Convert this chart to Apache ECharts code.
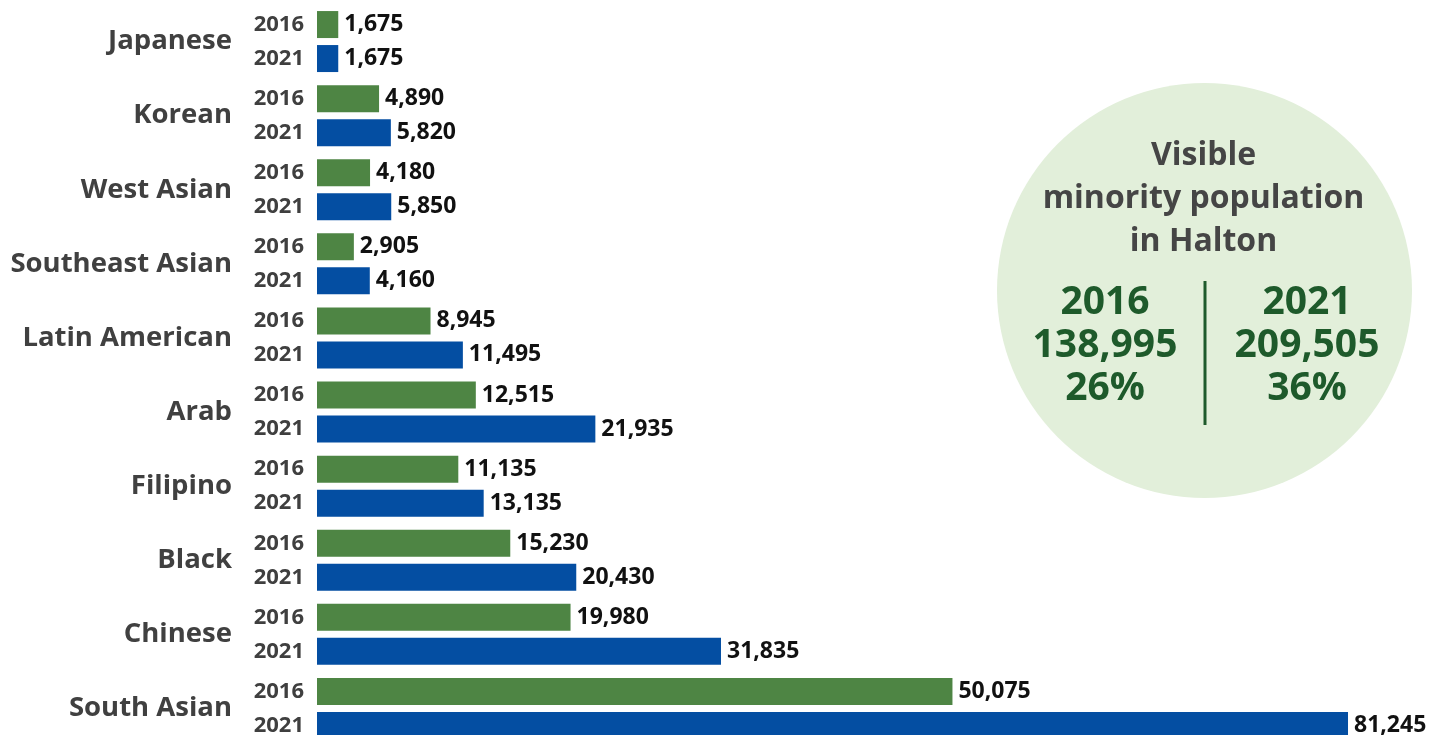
<!DOCTYPE html>
<html>
<head>
<meta charset="utf-8">
<script src="https://cdn.jsdelivr.net/npm/echarts@6/dist/echarts.min.js"></script>
<style>
  html, body { margin: 0; padding: 0; background: #ffffff; }
  #chart { width: 1435px; height: 735px; }
</style>
</head>
<body>
<div id="chart"></div>
<script>
// ---- Data ----
const categories = ['Japanese', 'Korean', 'West Asian', 'Southeast Asian', 'Latin American',
                    'Arab', 'Filipino', 'Black', 'Chinese', 'South Asian'];
const years = ['2016', '2021'];
const values2016 = [1675, 4890, 4180, 2905, 8945, 12515, 11135, 15230, 19980, 50075];
const values2021 = [1675, 5820, 5850, 4160, 11495, 21935, 13135, 20430, 31835, 81245];

const summaryTitle = ['Visible', 'minority population', 'in Halton'];
const summaryYears = ['2016', '2021'];
const summaryTotals = ['138,995', '209,505'];
const summaryShares = ['26%', '36%'];

// ---- Styling ----
const FONT = "'Open Sans', 'Noto Sans', sans-serif";
const GREEN = '#4E8544';
const BLUE = '#044EA2';
const BAR_W = 27;
const BAR_GAP = 7;

const fmt = v => v.toLocaleString('en-US');

const chart = echarts.init(document.getElementById('chart'), null, { renderer: 'canvas' });

const yearLabelData = [];
categories.forEach((c, i) => { years.forEach((y, j) => yearLabelData.push([0, i, j])); });

const option = {
  animation: false,
  backgroundColor: '#ffffff',
  textStyle: { fontFamily: FONT },
  grid: { left: 317, top: 4.5, height: 741, right: 0, containLabel: false, outerBoundsMode: 'none' },
  xAxis: {
    type: 'value', min: 0, max: 88100, show: false
  },
  yAxis: {
    type: 'category', data: categories, inverse: true,
    axisLine: { show: false }, axisTick: { show: false }, splitLine: { show: false },
    axisLabel: {
      margin: 85, fontSize: 27.5, fontWeight: 'bold', color: '#404040', fontFamily: FONT
    }
  },
  series: [
    {
      name: years[0], type: 'bar', data: values2016, barWidth: BAR_W, barGap: (BAR_GAP / BAR_W * 100) + '%',
      itemStyle: { color: GREEN },
      label: { show: true, position: 'right', distance: 6, formatter: p => fmt(p.value),
               fontSize: 23, fontWeight: 'bold', color: '#111111', fontFamily: FONT }
    },
    {
      name: years[1], type: 'bar', data: values2021, barWidth: BAR_W,
      itemStyle: { color: BLUE },
      label: { show: true, position: 'right', distance: 6, formatter: p => fmt(p.value),
               fontSize: 23, fontWeight: 'bold', color: '#111111', fontFamily: FONT }
    },
    {
      type: 'custom', data: yearLabelData, encode: { x: 0, y: 1 }, clip: false, silent: true,
      renderItem: (params, api) => {
        const cat = api.value(1), yi = api.value(2);
        const p = api.coord([0, cat]);
        const off = (yi === 0 ? -1 : 1) * (BAR_W + BAR_GAP) / 2;
        return {
          type: 'text', x: p[0] - 13, y: p[1] + off,
          style: { text: years[yi], align: 'right', verticalAlign: 'middle',
                   font: 'bold 22px ' + FONT, fill: '#3f3f3f' }
        };
      }
    }
  ],
  graphic: [
    { type: 'circle', shape: { cx: 1204.5, cy: 290.5, r: 207.5 }, style: { fill: '#E2EFDA' }, z: 0 },
    { type: 'line', shape: { x1: 1205, y1: 281, x2: 1205, y2: 425 }, style: { stroke: '#1E5A2B', lineWidth: 3 }, z: 1 },
    ...summaryTitle.map((t, i) => ({
      type: 'text', x: 1203.5, y: 156 + i * 43, z: 1,
      style: { text: t, align: 'center', verticalAlign: 'middle', font: 'bold 32px ' + FONT, fill: '#454545' }
    })),
    ...[0, 1].flatMap(k => [summaryYears[k], summaryTotals[k], summaryShares[k]].map((t, i) => ({
      type: 'text', x: k === 0 ? 1105 : 1307, y: 302.5 + i * 43, z: 1,
      style: { text: t, align: 'center', verticalAlign: 'middle', font: 'bold 39px ' + FONT, fill: '#1E5A2B' }
    })))
  ]
};

chart.setOption(option);
</script>
</body>
</html>
